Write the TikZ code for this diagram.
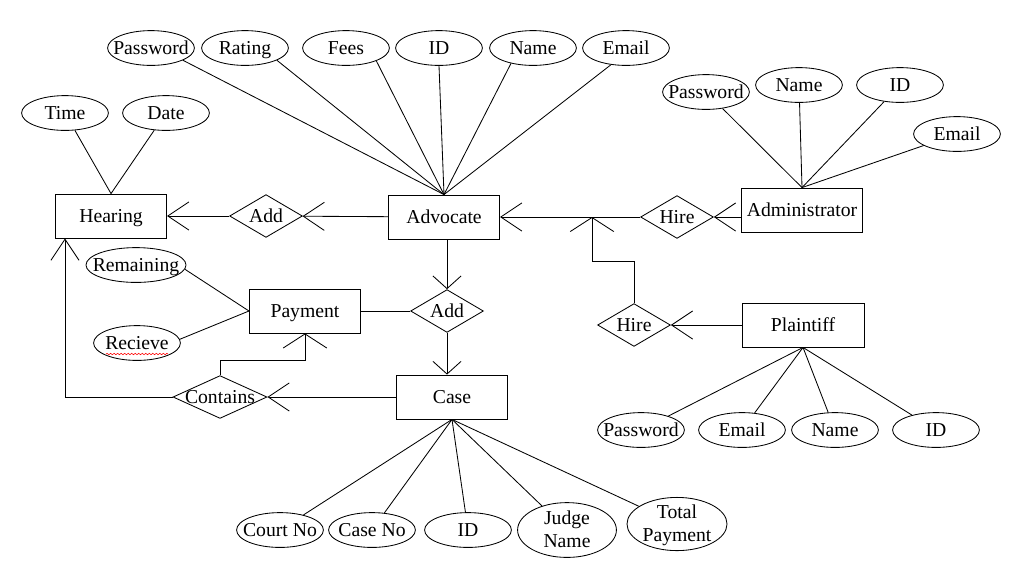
\documentclass[tikz,border=0pt]{standalone}
\usepackage{fontspec}
\setmainfont{Liberation Serif}
\usetikzlibrary{shapes.geometric,arrows.meta,decorations.pathmorphing}

\begin{document}
\begin{tikzpicture}[x=0.025cm, y=-0.025cm, line width=0.6pt,
    font=\fontsize{14}{16}\selectfont,
    ent/.style={draw, rectangle, minimum width=2.78cm, minimum height=1.1cm, inner sep=0pt,
      text height=10pt, text depth=0.5pt},
    rel/.style={draw, diamond, minimum width=1.82cm, minimum height=1.07cm, inner sep=0pt,
      text height=10pt, text depth=0.5pt,
      execute at begin node=\hbox to 0pt\bgroup\hss, execute at end node=\hss\egroup},
    attr/.style={draw, ellipse, minimum width=2.17cm, minimum height=0.87cm, inner sep=0pt,
      text height=10pt, text depth=0.5pt,
      execute at begin node=\hbox to 0pt\bgroup\hss, execute at end node=\hss\egroup},
    many/.style={-{Straight Barb[length=15pt,width=20pt]}},
    manyshort/.style={-{Straight Barb[length=9pt,width=20pt]}},
    manywide/.style={-{Straight Barb[length=10pt,width=31pt]}}]
    \useasboundingbox (0,0) rectangle (1016,562);

    % entities
    \node[ent] (hearing) at (111,216) {Hearing};
    \node[ent] (adv) at (444,217) {Advocate};
    \node[ent, minimum width=3.03cm] (admin) at (802,210) {Administrator};
    \node[ent] (payment) at (305,311) {Payment};
    \node[ent] (case) at (452,397) {Case};
    \node[ent, minimum width=3.05cm] (plaintiff) at (803,325) {Plaintiff};

    % relationships
    \node[rel] (add1) at (266,216) {Add};
    \node[rel] (hire1) at (677,217) {Hire};
    \node[rel] (add2) at (447,311) {Add};
    \node[rel, minimum width=2.35cm] (contains) at (220,397) {Contains};
    \node[rel] (hire2) at (634,325) {Hire};

    % advocate attributes
    \node[attr] (apass) at (151,48) {Password};
    \node[attr] (arating) at (245,48) {Rating};
    \node[attr] (afees) at (346,48) {Fees};
    \node[attr] (aid) at (439,48) {ID};
    \node[attr] (aname) at (533,48) {Name};
    \node[attr] (aemail) at (626,48) {Email};
    \foreach \a/\ang in {apass/-21,arating/-21,afees/-23,aid/-90,aname/-145,aemail/-132}
        \draw (\a.\ang) -- (adv.north);

    % hearing attributes
    \node[attr] (htime) at (65,113) {Time};
    \node[attr] (hdate) at (166,113) {Date};
    \foreach \a in {htime,hdate}
        \draw (\a) -- (hearing.north);

    % administrator attributes
    \node[attr] (dpass) at (706,92) {Password};
    \node[attr] (dname) at (799,85) {Name};
    \node[attr] (did) at (900,85) {ID};
    \node[attr] (demail) at (957,134) {Email};
    \foreach \a in {dpass,dname,did,demail}
        \draw (\a) -- (admin.north);

    % payment attributes
    \node[attr, minimum width=2.5cm] (prem) at (136,265) {Remaining};
    \node[attr] (prec) at (137,343) {Recieve};
    \draw[red, line width=0.4pt, decorate, decoration={snake, amplitude=0.5pt, segment length=2.5pt}]
        ([shift={(-31,11)}]prec.center) -- ([shift={(31,11)}]prec.center);
    \draw (prem.-5) -- (payment.west);
    \draw (prec.5) -- (payment.west);

    % plaintiff attributes
    \node[attr] (lpass) at (641,430) {Password};
    \node[attr] (lemail) at (742,430) {Email};
    \node[attr] (lname) at (835,430) {Name};
    \node[attr] (lid) at (936,430) {ID};
    \foreach \a in {lpass,lemail,lname,lid}
        \draw (\a) -- (plaintiff.south);

    % case attributes
    \node[attr] (ccourt) at (280,530) {Court No};
    \node[attr] (cno) at (372,530) {Case No};
    \node[attr] (cid) at (468,530) {ID};
    \node[attr, minimum width=2.47cm, minimum height=1.37cm] (cjudge) at (567,530)
        {\begin{tabular}{@{}c@{}}Judge\\Name\end{tabular}};
    \node[attr, minimum width=2.5cm, minimum height=1.33cm] (ctotal) at (677,524)
        {\begin{tabular}{@{}c@{}}Total\\Payment\end{tabular}};
    \foreach \a in {ccourt,cno,cid,cjudge,ctotal}
        \draw (\a) -- (case.south);

    % relations
    \coordinate (junc) at (592,217);
    \draw[many] (add1) -- (hearing);
    \draw[many] (adv) -- (add1);
    \draw[many] (hire1) -- (adv);
    \draw[many] (admin.west |- hire1) -- (hire1.east);
    \draw[many] (plaintiff) -- (hire2);
    \draw[manywide] (hire2.north) -- ++(0,-42) -| (junc);
    \draw[manyshort] (adv.south -| add2.north) -- (add2.north);
    \draw[manyshort] (add2.south) -- (add2.south |- case.north);
    \draw (add2) -- (payment);
    \draw[many] (case) -- (contains);
    \draw[manywide] (contains.north) -- ++(0,-15) -| (payment.south);
    \draw[many] (contains.west) -| ([shift={(10,0)}]hearing.south west);
\end{tikzpicture}
\end{document}
